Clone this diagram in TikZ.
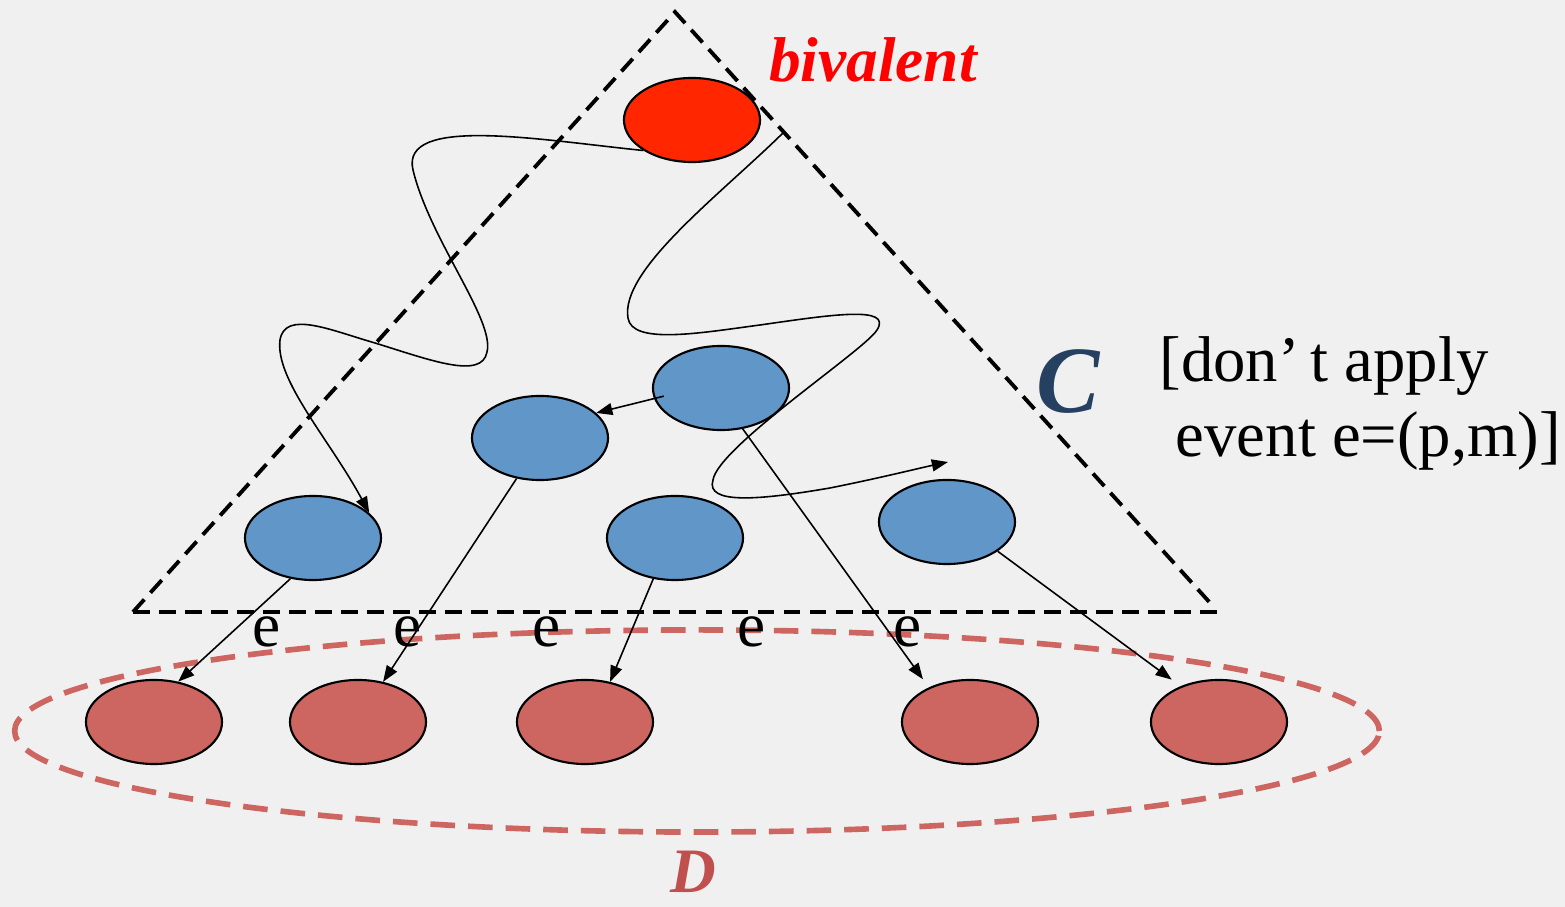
\documentclass[tikz,border=0pt]{standalone}
\usepackage{fontspec}
\setmainfont{Liberation Serif}
\usepackage{xcolor}
\usepackage{tikz}
\usetikzlibrary{arrows.meta,shapes.geometric}
\definecolor{bggray}{HTML}{F0F0F0}
\definecolor{bivred}{HTML}{FF2600}
\definecolor{cblue}{HTML}{6096C8}
\definecolor{dred}{HTML}{CD6660}
\definecolor{dlabel}{HTML}{C0504D}
\definecolor{cnavy}{HTML}{254061}
\tikzset{
  confnode/.style={
    ellipse,
    draw=black,
    line width=0.6pt,
    minimum width=1.36cm,
    minimum height=0.84cm,
    inner sep=0pt
  },
  bivconf/.style={confnode, fill=bivred},
  cconf/.style={confnode, fill=cblue},
  dconf/.style={confnode, fill=dred},
  cregion/.style={
    line width=1.1pt,
    dash pattern=on 4.8pt off 2.6pt
  },
  dregion/.style={
    ellipse,
    draw=dred,
    line width=1.6pt,
    dash pattern=on 7pt off 3.7pt,
    minimum width=13.64cm,
    minimum height=2.02cm,
    inner sep=0pt
  },
  flowarrow/.style={
    -{Triangle[length=4.6pt,width=3.4pt]},
    line width=0.45pt
  },
  wiggle/.style={line width=0.6pt},
  elabel/.style={font=\fontsize{18}{20}\selectfont, anchor=base, inner sep=0pt}
}

\begin{document}
\begin{tikzpicture}[x=0.01cm, y=-0.01cm]
    \useasboundingbox (0,0) rectangle (1565,907);
    \fill[bggray] (0,0) rectangle (1565,907);

    % the set D
    \node[dregion] (dset) at (697,731) {};

    % configurations
    \node[bivconf] (biv) at (692,120) {};
    \node[cconf] (b1) at (721,388) {};
    \node[cconf] (b2) at (540,438) {};
    \node[cconf] (b3) at (313,538) {};
    \node[cconf] (b4) at (675,538) {};
    \node[cconf] (b5) at (947,522) {};
    \node[dconf] (r1) at (154,722) {};
    \node[dconf] (r2) at (358,722) {};
    \node[dconf] (r3) at (585,722) {};
    \node[dconf] (r4) at (970,722) {};
    \node[dconf] (r5) at (1219,722) {};

    % the region C
    \coordinate (apex) at (675,12);
    \coordinate (cleft) at (133,612);
    \coordinate (cright) at (1218,612);
    \coordinate (cside) at (1212,605);
    \draw[cregion] (cleft) -- (apex) -- (cside);
    \draw[cregion] (cleft) -- (cright);

    % schedules without e
    \draw[wiggle, flowarrow] (biv.212) .. controls (540,140) and (400,115) .. (413,170)
        .. controls (430,240) and (495,320) .. (487,352)
        .. controls (482,380) and (430,360) .. (375,343)
        .. controls (330,330) and (285,310) .. (280,340)
        .. controls (275,380) and (330,440) .. (b3.24);
    \coordinate (w2start) at (784,132);
    \coordinate (w2end) at (948,462);
    \draw[wiggle, flowarrow] (w2start) .. controls (720,195) and (620,270) .. (628,318)
        .. controls (632,345) and (700,333) .. (760,325)
        .. controls (830,315) and (893,305) .. (877,330)
        .. controls (865,350) and (718,447) .. (713,480)
        .. controls (705,505) and (760,500) .. (830,488)
        .. controls (880,478) and (920,468) .. (w2end);
    \draw[flowarrow, shorten <=-0.1cm] (b1.189) -- (b2.24);

    % applying e
    \draw[flowarrow] (b3.-119) -- (r1.59);
    \draw[flowarrow] (b2.-120) -- (r2.58);
    \draw[flowarrow] (b4.-118) -- (r3.58);
    \draw[flowarrow, shorten >=0.1cm] (b1.-62) -- (r4.140);
    \draw[flowarrow, shorten >=0.11cm] (b5.-30) -- (r5.137);
    \foreach \ex [count=\i] in {267,408,547,752,908}
        \node[elabel] (e\i) at (\ex,647) {e};

    % labels
    \node[font=\fontsize{18}{20}\selectfont\bfseries\itshape, text=red, anchor=base, inner sep=0pt] (bivlabel) at (873,82) {bivalent};
    \node[font=\fontsize{27}{30}\selectfont\bfseries\itshape, text=cnavy, anchor=base, inner sep=0pt] (clabel) at (1068,413) {C};
    \node[font=\fontsize{18}{20}\selectfont\bfseries\itshape, text=dlabel, anchor=base, inner sep=0pt] (dlab) at (693,893) {D};
    \node[font=\fontsize{18.4}{21.3}\selectfont, align=left, anchor=north west, inner sep=0pt] (note) at (1159,336)
        {[don’\,t apply\\\hspace*{0.25em}event e=(p,m)]};
\end{tikzpicture}
\end{document}
